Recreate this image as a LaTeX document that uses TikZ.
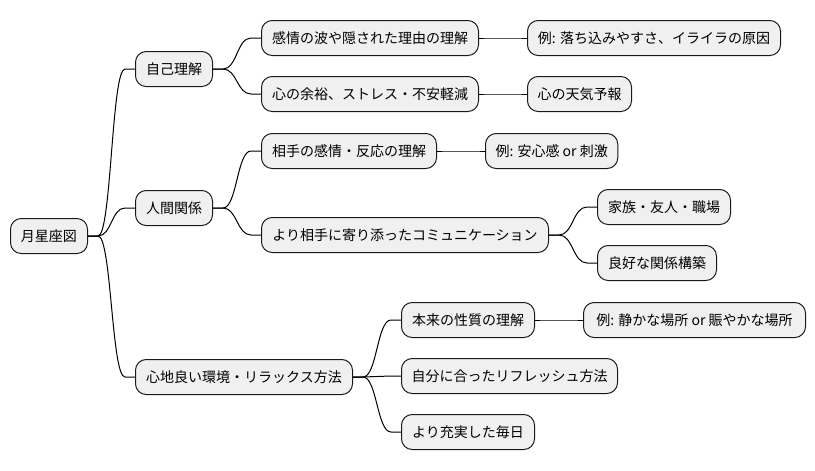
\documentclass[tikz,border=0pt]{standalone}
\usepackage{fontspec}
\setmainfont{Noto Sans CJK JP}
\usetikzlibrary{calc}
\tikzset{
  box/.style={draw=black!90, fill=black!6, line width=0.75pt, rounded corners=8pt,
    anchor=west, minimum height=26.25pt, minimum width=#1*0.75pt, inner xsep=7.5pt,
    font=\fontsize{10.5pt}{12pt}\selectfont, align=center},
  connline/.style={draw=black, line width=0.75pt}
}
\newcommand\mmconn[2]{%
  \draw[connline] let \p1=(#1.east), \p2=(#2.west), \n1={(\x2-\x1)/2} in
    (\p1) -- ({\x1+7.5pt},\y1) .. controls ({\x1+\n1},\y1) and ({\x1+\n1},\y2) .. ({\x2-7.5pt},\y2) -- (\p2);}
\begin{document}
\begin{tikzpicture}[x=0.75pt,y=-0.75pt]
\useasboundingbox[fill=white] (0,0) rectangle (815,471);
\node[box=77] (root) at (10,236) {月星座図};
\node[box=77] (n1) at (135,69) {自己理解};
\node[box=77] (n2) at (135,208) {人間関係};
\node[box=217] (n3) at (135,377) {心地良い環境・リラックス方法};
\node[box=217] (a1) at (261,38) {感情の波や隠された理由の理解};
\node[box=217] (a2) at (261,94) {心の余裕、ストレス・不安軽減};
\node[box=253] (a1x) at (527,38) {例: 落ち込みやすさ、イライラの原因};
\node[box=104] (a2x) at (527,94) {心の天気予報};
\node[box=175] (b1) at (261,151) {相手の感情・反応の理解};
\node[box=124] (b1x) at (485,151) {例: 安心感 or 刺激};
\node[box=287] (b2) at (261,235) {より相手に寄り添ったコミュニケーション};
\node[box=133] (b2a) at (597,207) {家族・友人・職場};
\node[box=119] (b2b) at (597,263) {良好な関係構築};
\node[box=133] (c1) at (401,320) {本来の性質の理解};
\node[box=222] (c1x) at (583,320) {例: 静かな場所 or 賑やかな場所};
\node[box=215] (c2) at (401,376) {自分に合ったリフレッシュ方法};
\node[box=133] (c3) at (401,432) {より充実した毎日};
\mmconn{root}{n1}
\mmconn{root}{n2}
\mmconn{root}{n3}
\mmconn{n1}{a1}
\mmconn{n1}{a2}
\mmconn{a1}{a1x}
\mmconn{a2}{a2x}
\mmconn{n2}{b1}
\mmconn{n2}{b2}
\mmconn{b1}{b1x}
\mmconn{b2}{b2a}
\mmconn{b2}{b2b}
\mmconn{n3}{c1}
\mmconn{n3}{c2}
\mmconn{n3}{c3}
\mmconn{c1}{c1x}
\end{tikzpicture}
\end{document}
